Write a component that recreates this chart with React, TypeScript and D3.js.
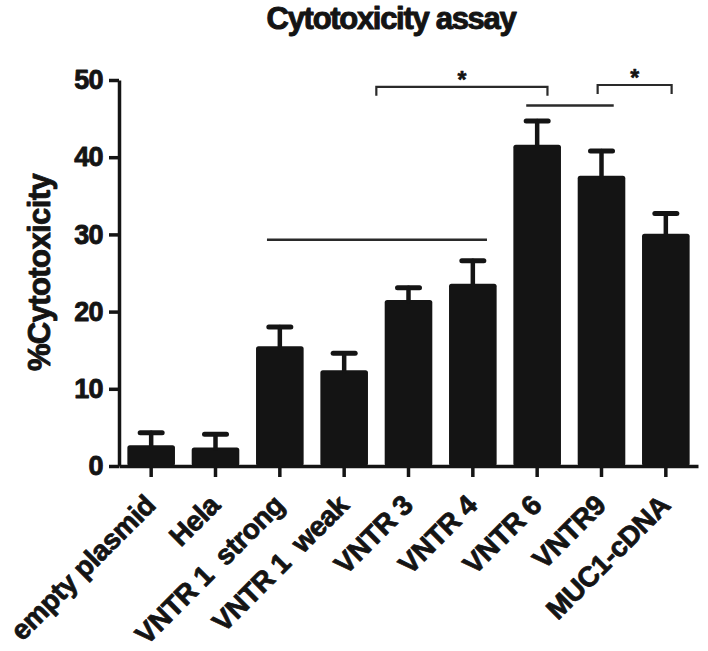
import React, { useRef, useEffect } from "react";
import * as d3 from "d3";

// data
const categories = [
  "empty plasmid",
  "Hela",
  "VNTR 1  strong",
  "VNTR 1  weak",
  "VNTR 3",
  "VNTR 4",
  "VNTR 6",
  "VNTR9",
  "MUC1-cDNA"
];
const means = [2.7, 2.4, 15.5, 12.4, 21.5, 23.6, 41.6, 37.6, 30.1];
const errors = [1.6, 1.7, 2.5, 2.2, 1.6, 3.0, 3.1, 3.2, 2.6];
const yTicks = [0, 10, 20, 30, 40, 50];

// significance marks, in category-index units (from/to) and value units (y)
const brackets = [
  { from: 3.5, to: 6.16, y: 49.1, leg: 1.15, star: true },
  { from: 6.94, to: 8.09, y: 49.35, leg: 1.15, star: true }
];
const plainLines = [
  { from: 5.83, to: 7.19, y: 46.7 },
  { from: 1.8, to: 5.22, y: 29.3 }
];

const FONT = "'Liberation Sans', Arial, Helvetica, sans-serif";
const INK = "#141414";

// bold text with a thin outline, to get the heavier look of the figure
const heavy = (sel, size, stroke = 0.8) =>
  sel
    .attr("font-family", FONT)
    .attr("font-weight", "bold")
    .attr("font-size", size)
    .attr("fill", INK)
    .attr("stroke", INK)
    .attr("stroke-width", stroke)
    .attr("stroke-linejoin", "round");

const App = () => {
  const svgRef = useRef(null);

  const width = 708;
  const height = 651;
  const left = 119;
  const right = 698;
  const top = 80;
  const bottom = 466;

  useEffect(() => {
    const svg = d3.select(svgRef.current);
    svg.selectAll("*").remove();

    const x = d3
      .scaleBand()
      .domain(categories)
      .range([left, right])
      .paddingInner(0.26)
      .paddingOuter(0.13);
    const y = d3.scaleLinear().domain([0, 50]).range([bottom, top]);
    // index -> pixel, for annotation lines that sit between bars
    const xi = d3
      .scaleLinear()
      .domain([0, categories.length - 1])
      .range([
        x(categories[0]) + x.bandwidth() / 2,
        x(categories[categories.length - 1]) + x.bandwidth() / 2
      ]);

    // title
    heavy(svg.append("text"), 31, 1)
      .attr("x", 391)
      .attr("y", 29)
      .attr("text-anchor", "middle")
      .attr("letter-spacing", -1.3)
      .text("Cytotoxicity assay");

    // y axis title
    heavy(svg.append("text"), 31, 0.9)
      .attr("transform", `translate(50, ${(165 + 380) / 2}) rotate(-90)`)
      .attr("text-anchor", "middle")
      .attr("letter-spacing", -0.6)
      .text("%Cytotoxicity");

    // bars
    svg
      .append("g")
      .selectAll("rect")
      .data(categories)
      .join("rect")
      .attr("x", d => x(d))
      .attr("width", x.bandwidth())
      .attr("y", (d, i) => y(means[i]))
      .attr("height", (d, i) => bottom - y(means[i]))
      .attr("rx", 2.5)
      .attr("fill", INK);

    // error bars (upper only)
    const eb = svg.append("g").attr("stroke", INK).attr("stroke-linecap", "round");
    categories.forEach((c, i) => {
      const cx = x(c) + x.bandwidth() / 2;
      const yTop = y(means[i] + errors[i]);
      eb.append("line")
        .attr("x1", cx)
        .attr("x2", cx)
        .attr("y1", y(means[i]) + 1)
        .attr("y2", yTop)
        .attr("stroke-width", 4.5);
      eb.append("line")
        .attr("x1", cx - 11)
        .attr("x2", cx + 11)
        .attr("y1", yTop)
        .attr("y2", yTop)
        .attr("stroke-width", 5);
    });

    // y axis
    const yAxis = d3
      .axisLeft(y)
      .tickValues(yTicks)
      .tickSize(10)
      .tickSizeOuter(0)
      .tickPadding(6);
    const gy = svg.append("g").attr("transform", `translate(${left},0)`).call(yAxis);
    gy.select(".domain").attr("stroke", INK).attr("stroke-width", 3.5);
    gy.selectAll(".tick line").attr("stroke", INK).attr("stroke-width", 3.5);
    heavy(gy.selectAll(".tick text"), 27, 0.9).attr("letter-spacing", -0.6);

    // x axis
    const xAxis = d3.axisBottom(x).tickSize(11).tickSizeOuter(0);
    const gx = svg.append("g").attr("transform", `translate(0,${bottom})`).call(xAxis);
    gx.select(".domain").attr("stroke", INK).attr("stroke-width", 3.5);
    gx.selectAll(".tick line").attr("stroke", INK).attr("stroke-width", 3.5);
    heavy(gx.selectAll(".tick text"), 28, 0.8)
      .attr("text-anchor", "end")
      .attr("letter-spacing", -0.4)
      .attr("dy", 0)
      .attr("y", 0)
      .attr("transform", "translate(6,41) rotate(-45)")
      .style("white-space", "pre");

    // significance brackets
    const ann = svg.append("g").attr("stroke", "#2a2a2a").attr("fill", "none");
    brackets.forEach(b => {
      const x1 = xi(b.from);
      const x2 = xi(b.to);
      const yb = y(b.y);
      const yl = y(b.y - b.leg);
      ann.append("path")
        .attr("d", `M${x1},${yl}V${yb}H${x2}V${yl}`)
        .attr("stroke-width", 2.2);
      if (b.star) {
        heavy(svg.append("text"), 23, 0.6)
          .attr("x", (x1 + x2) / 2)
          .attr("y", yb + 1)
          .attr("text-anchor", "middle")
          .text("*");
      }
    });
    plainLines.forEach(l => {
      ann.append("line")
        .attr("x1", xi(l.from))
        .attr("x2", xi(l.to))
        .attr("y1", y(l.y))
        .attr("y2", y(l.y))
        .attr("stroke-width", 2.4);
    });
  }, []);

  return (
    <svg
      ref={svgRef}
      width={width}
      height={height}
      style={{ position: "absolute", left: 0, top: 0, background: "#fff" }}
    />
  );
};

export default App;
